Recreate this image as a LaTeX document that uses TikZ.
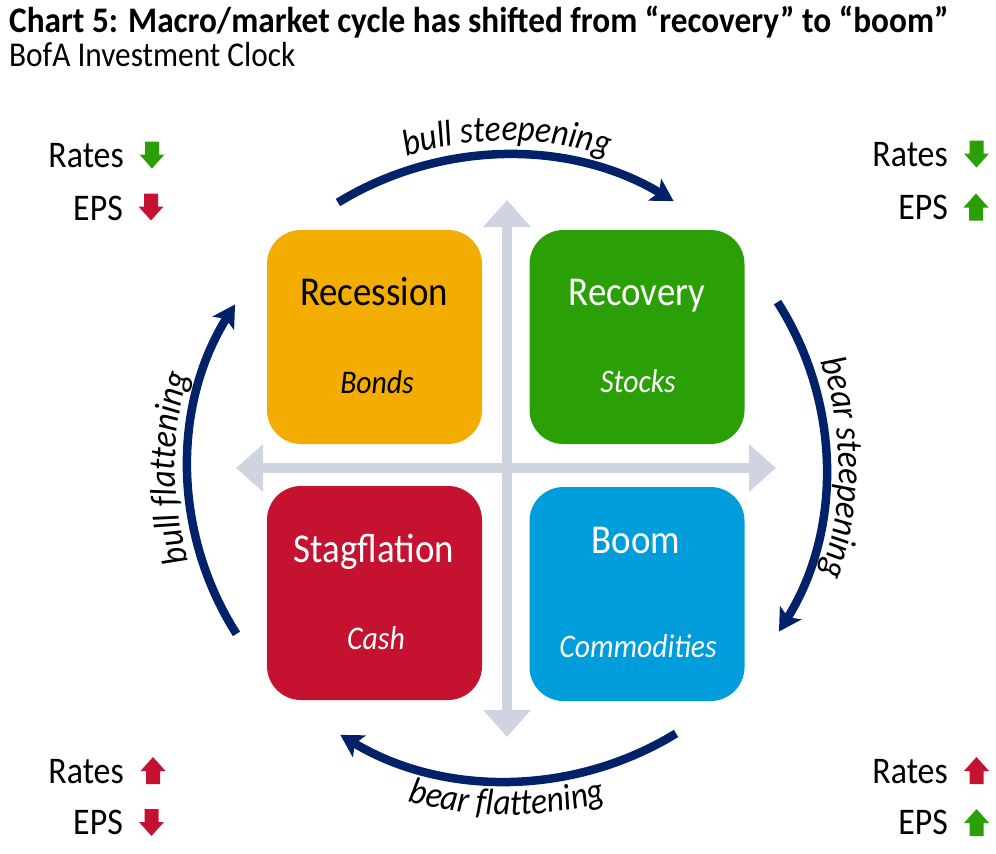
\documentclass[tikz,border=0pt]{standalone}
\usepackage{fontspec}
\setmainfont{Carlito}[FakeStretch=0.9]
\newfontfamily\titlefamily{Carlito}[FakeStretch=0.925]
\usetikzlibrary{arrows.meta,decorations.text}
\definecolor{navyc}{RGB}{1,33,105}
\definecolor{greenc}{RGB}{42,160,6}
\definecolor{yellowc}{RGB}{243,172,0}
\definecolor{redc}{RGB}{196,18,48}
\definecolor{bluec}{RGB}{0,157,220}
\definecolor{grayc}{RGB}{206,213,225}
\newcommand\arcfont{\itshape\fontsize{37}{40}\selectfont}
\tikzset{
  box/.style={rounded corners=34pt, minimum width=215pt, minimum height=214pt, inner sep=0pt, draw=none},
  boxhead/.style={font=\fontsize{41}{44}\selectfont, anchor=base, inner sep=0pt},
  boxsub/.style={font=\itshape\fontsize{33}{36}\selectfont, anchor=base, inner sep=0pt},
  lbl/.style={font=\fontsize{37.6}{40}\selectfont, anchor=base east, inner sep=0pt},
  cyc/.style={draw=navyc, line width=8.5pt, -{Stealth[length=22pt,width=25pt,inset=5pt]}},
  axisarrow/.style={draw=grayc, line width=10pt, {Triangle[length=27pt,width=46pt]}-{Triangle[length=27pt,width=46pt]}},
  arctext/.style={decorate, decoration={text along path, text align=center, text={|\arcfont|#1}}},
  pics/downarr/.style={code={\fill (5.5,0) -- (19.5,0) -- (19.5,13) -- (25,13) -- (12.5,27) -- (0,13) -- (5.5,13) -- cycle;}},
  pics/uparr/.style={code={\fill (12.5,0) -- (25,14) -- (19.5,14) -- (19.5,27) -- (5.5,27) -- (5.5,14) -- (0,14) -- cycle;}},
}
\begin{document}
\begin{tikzpicture}[x=1pt,y=-1pt]
\useasboundingbox (0,0) rectangle (996,854);
% title
\node[anchor=base west, inner sep=0pt] (title) at (9,32) {\titlefamily\bfseries\fontsize{36}{38}\selectfont Chart 5: Macro/market cycle has shifted from “recovery” to “boom”};
\node[anchor=base west, inner sep=0pt] (subtitle) at (9,66) {\fontsize{34.8}{37}\selectfont BofA Investment Clock};
% axes
\coordinate (c) at (507,468);
\coordinate (xl) at (236,468);
\coordinate (xr) at (776,468);
\coordinate (yt) at (507,200);
\coordinate (yb) at (507,737);
\draw[axisarrow] (xl) -- (xr);
\draw[axisarrow] (yt) -- (yb);
% boxes
\node[box, fill=yellowc] (recession) at (374.5,337) {};
\node[box, fill=greenc] (recovery) at (637,337) {};
\node[box, fill=redc] (stagflation) at (374.5,593) {};
\node[box, fill=bluec] (boom) at (637,594) {};
\node[boxhead] (recT) at (374,305) {Recession};
\node[boxsub] (recS) at (377,393) {Bonds};
\node[boxhead, text=white] (recoT) at (637,305) {Recovery};
\node[boxsub, text=white] (recoS) at (638,392) {Stocks};
\node[boxhead, text=white] (stagT) at (374,562) {Stagflation};
\node[boxsub, text=white] (stagS) at (376,649) {Cash};
\node[boxhead, text=white] (boomT) at (636,553) {Boom};
\node[boxsub, text=white] (boomS) at (638,657) {Commodities};
% cycle arrows
\draw[cyc] (c) ++(-122:319 and 313) arc[start angle=-122, end angle=-58.5, x radius=319, y radius=313];
\draw[cyc] (c) ++(-32:319 and 313) arc[start angle=-32, end angle=31.5, x radius=319, y radius=313];
\draw[cyc] (c) ++(58:319 and 313) arc[start angle=58, end angle=121.5, x radius=319, y radius=313];
\draw[cyc] (c) ++(148:319 and 313) arc[start angle=148, end angle=211.5, x radius=319, y radius=313];
% cycle labels
\path[arctext={bull steepening}] (c) ++(-150:332 and 327) arc[start angle=-150, end angle=-30, x radius=332, y radius=327];
\path[arctext={bear steepening}] (c) ++(-30:332 and 326) arc[start angle=-30, end angle=30, x radius=332, y radius=326];
\path[arctext={bear flattening}] (c) ++(150:354 and 347) arc[start angle=150, end angle=30, x radius=354, y radius=347];
\path[arctext={bull flattening}] (c) ++(150:332 and 326) arc[start angle=150, end angle=210, x radius=332, y radius=326];
% corner labels
\node[lbl] (tlR) at (124,167) {Rates};
\node[lbl] (tlE) at (123,220) {EPS};
\pic[greenc] at (139.5,141.5) {downarr};
\pic[redc] at (138.5,193.5) {downarr};
\node[lbl] (trR) at (948,166) {Rates};
\node[lbl] (trE) at (948,219) {EPS};
\pic[greenc] at (964,140.5) {downarr};
\pic[greenc] at (963.5,193.5) {uparr};
\node[lbl] (blR) at (124,783) {Rates};
\node[lbl] (blE) at (123,834) {EPS};
\pic[redc] at (140.5,757) {uparr};
\pic[redc] at (139,809) {downarr};
\node[lbl] (brR) at (948,783) {Rates};
\node[lbl] (brE) at (948,834) {EPS};
\pic[redc] at (964,757) {uparr};
\pic[greenc] at (964,809) {uparr};
\end{tikzpicture}
\end{document}
